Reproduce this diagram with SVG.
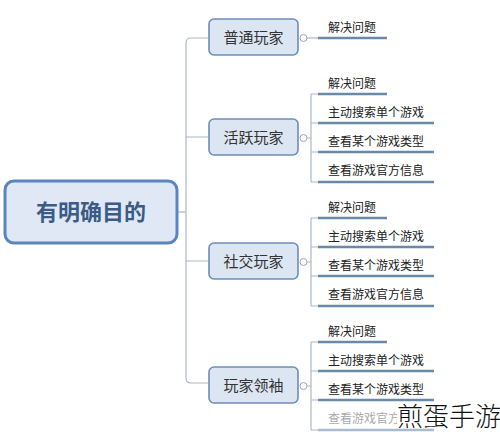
<svg xmlns="http://www.w3.org/2000/svg" width="500" height="437" viewBox="0 0 500 437">
<style>
.t{font-family:"Noto Sans CJK SC","Liberation Sans",sans-serif;}
.root{fill:#dfe8f4;stroke:#5a86bf;stroke-width:3;}
.rt{font-size:22px;font-weight:bold;fill:#3b5b86;}
.n1{fill:#dce6f2;stroke:#6d8dba;stroke-width:1.6;}
.t1{font-size:15px;fill:#333;}
.t2{font-size:12px;fill:#222;}
.ul{stroke:#6a88a8;stroke-width:2.6;fill:none;}
.c{stroke:#aeb8c4;stroke-width:1.2;fill:none;}
.cc{fill:#fff;stroke:#9aa6b2;stroke-width:1;}
</style>
<rect width="500" height="437" fill="#fff"/>
<g id="connectors">
<path class="c" d="M177,212 H186"/>
<path class="c" d="M208,38 H191 Q186,38 186,43 V378 Q186,383 191,383 H208"/>
<path class="c" d="M186,137 H208 M186,261 H208"/>
<path class="c" d="M307,38 H318"/>
<path class="c" d="M307,138 H311 M311,94 V182 M311,94 H318 M311,123 H318 M311,152 H318 M311,182 H318"/>
<path class="c" d="M307,262 H311 M311,218 V306 M311,218 H318 M311,247 H318 M311,276 H318 M311,306 H318"/>
<path class="c" d="M307,386 H311 M311,342 V430 M311,342 H318 M311,371 H318 M311,400 H318 M311,430 H318"/>
</g>
<g id="root">
<rect class="root" x="5" y="181" width="172" height="62" rx="9"/>
<text class="t rt" x="91" y="220" text-anchor="middle">有明确目的</text>
</g>
<g id="n-putong">
<rect class="n1" x="209" y="19" width="89" height="36" rx="5"/>
<text class="t t1" x="253.5" y="43" text-anchor="middle">普通玩家</text>
<circle class="cc" cx="303.5" cy="38" r="3.5"/>
</g>
<g id="n-putong-1"><text class="t t2" x="328" y="32">解决问题</text><path class="ul" d="M318,38 H387"/></g>
<g id="n-huoyue">
<rect class="n1" x="209" y="119" width="89" height="36" rx="5"/>
<text class="t t1" x="253.5" y="143" text-anchor="middle">活跃玩家</text>
<circle class="cc" cx="303.5" cy="138" r="3.5"/>
</g>
<g id="n-huoyue-1"><text class="t t2" x="328" y="88">解决问题</text><path class="ul" d="M318,94 H387"/></g>
<g id="n-huoyue-2"><text class="t t2" x="328" y="117">主动搜索单个游戏</text><path class="ul" d="M318,123 H434"/></g>
<g id="n-huoyue-3"><text class="t t2" x="328" y="146">查看某个游戏类型</text><path class="ul" d="M318,152 H434"/></g>
<g id="n-huoyue-4"><text class="t t2" x="328" y="175">查看游戏官方信息</text><path class="ul" d="M318,182 H434"/></g>
<g id="n-shejiao">
<rect class="n1" x="209" y="243" width="89" height="36" rx="5"/>
<text class="t t1" x="253.5" y="267" text-anchor="middle">社交玩家</text>
<circle class="cc" cx="303.5" cy="262" r="3.5"/>
</g>
<g id="n-shejiao-1"><text class="t t2" x="328" y="212">解决问题</text><path class="ul" d="M318,218 H387"/></g>
<g id="n-shejiao-2"><text class="t t2" x="328" y="241">主动搜索单个游戏</text><path class="ul" d="M318,247 H434"/></g>
<g id="n-shejiao-3"><text class="t t2" x="328" y="270">查看某个游戏类型</text><path class="ul" d="M318,276 H434"/></g>
<g id="n-shejiao-4"><text class="t t2" x="328" y="299">查看游戏官方信息</text><path class="ul" d="M318,306 H434"/></g>
<g id="n-lingxiu">
<rect class="n1" x="209" y="367" width="89" height="36" rx="5"/>
<text class="t t1" x="253.5" y="391" text-anchor="middle">玩家领袖</text>
<circle class="cc" cx="303.5" cy="386" r="3.5"/>
</g>
<g id="n-lingxiu-1"><text class="t t2" x="328" y="336">解决问题</text><path class="ul" d="M318,342 H387"/></g>
<g id="n-lingxiu-2"><text class="t t2" x="328" y="365">主动搜索单个游戏</text><path class="ul" d="M318,371 H434"/></g>
<g id="n-lingxiu-3"><text class="t t2" x="328" y="394">查看某个游戏类型</text><path class="ul" d="M318,400 H434"/></g>
<g id="n-lingxiu-4"><text class="t t2" x="328" y="423" style="fill:#aaa">查看游戏官方信息</text><path class="ul" d="M318,430 H434" style="stroke:#a9bccf"/></g>
<g id="watermark">
<rect x="397" y="404" width="103" height="24" fill="#fff"/>
<text class="t" x="397" y="426" font-size="26" font-weight="300" fill="#111">煎蛋手游</text>
</g>
</svg>
